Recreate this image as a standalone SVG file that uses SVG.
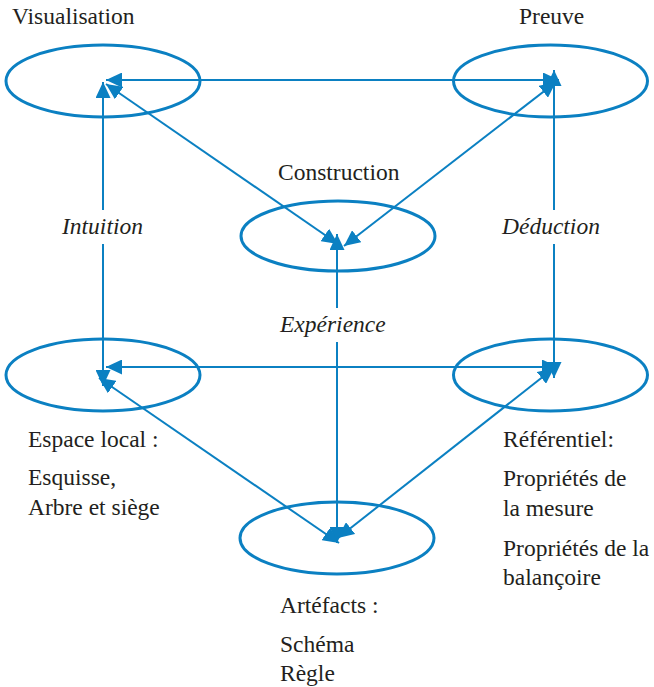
<svg xmlns="http://www.w3.org/2000/svg" width="654" height="687" viewBox="0 0 654 687">
<style>
.node ellipse{fill:none;stroke:#0b80c2;stroke-width:3}
.conn line{stroke:#0b80c2;stroke-width:2;marker-start:url(#ah);marker-end:url(#ah)}
text{font-family:"Liberation Serif","Times New Roman",serif;font-size:23.5px;fill:#231f20}
.it{font-style:italic}
.bg{fill:#fff}
</style>
<defs>
<marker id="ah" markerUnits="userSpaceOnUse" markerWidth="17" markerHeight="15" refX="16" refY="7.5" orient="auto-start-reverse">
<path d="M0,0 L16,7.5 L0,15 z" fill="#0b80c2"/>
</marker>
</defs>
<rect width="654" height="687" fill="#fff"/>
<g id="connectors" class="conn">
<line x1="106" y1="80" x2="559" y2="80"/>
<line x1="103" y1="82" x2="103" y2="386"/>
<line x1="554" y1="70" x2="554" y2="378"/>
<line x1="106" y1="367" x2="558" y2="367"/>
<line x1="106" y1="84" x2="338" y2="244"/>
<line x1="556" y1="82" x2="344" y2="246"/>
<line x1="337" y1="234" x2="337" y2="543"/>
<line x1="99" y1="378" x2="339" y2="543"/>
<line x1="554" y1="368" x2="338" y2="538"/>
</g>
<g id="visualisation" class="node"><ellipse cx="103" cy="81" rx="97" ry="36"/><text x="12" y="24">Visualisation</text></g>
<g id="preuve" class="node"><ellipse cx="550.5" cy="81" rx="97" ry="36"/><text x="519" y="24">Preuve</text></g>
<g id="construction" class="node"><ellipse cx="338" cy="236" rx="97" ry="35"/><text x="278" y="180">Construction</text></g>
<g id="espace" class="node"><ellipse cx="103" cy="375" rx="97" ry="36"/><text x="28" y="447">Espace local :</text><text x="28" y="485">Esquisse,</text><text x="28" y="515">Arbre et siège</text></g>
<g id="referentiel" class="node"><ellipse cx="550.5" cy="375" rx="97" ry="36"/><text x="503" y="447">Référentiel:</text><text x="503" y="486">Propriétés de</text><text x="503" y="516">la mesure</text><text x="503" y="556">Propriétés de la</text><text x="503" y="585">balançoire</text></g>
<g id="artefacts" class="node"><ellipse cx="337" cy="538" rx="97" ry="36"/><text x="280" y="613">Artéfacts :</text><text x="280" y="652">Schéma</text><text x="280" y="681">Règle</text></g>
<g id="labels">
<rect class="bg" x="60" y="210" width="88" height="34"/><text class="it" x="62" y="234">Intuition</text>
<rect class="bg" x="500" y="210" width="108" height="34"/><text class="it" x="502" y="234">Déduction</text>
<rect class="bg" x="278" y="308" width="114" height="34"/><text class="it" x="280" y="332">Expérience</text>
</g>
</svg>
